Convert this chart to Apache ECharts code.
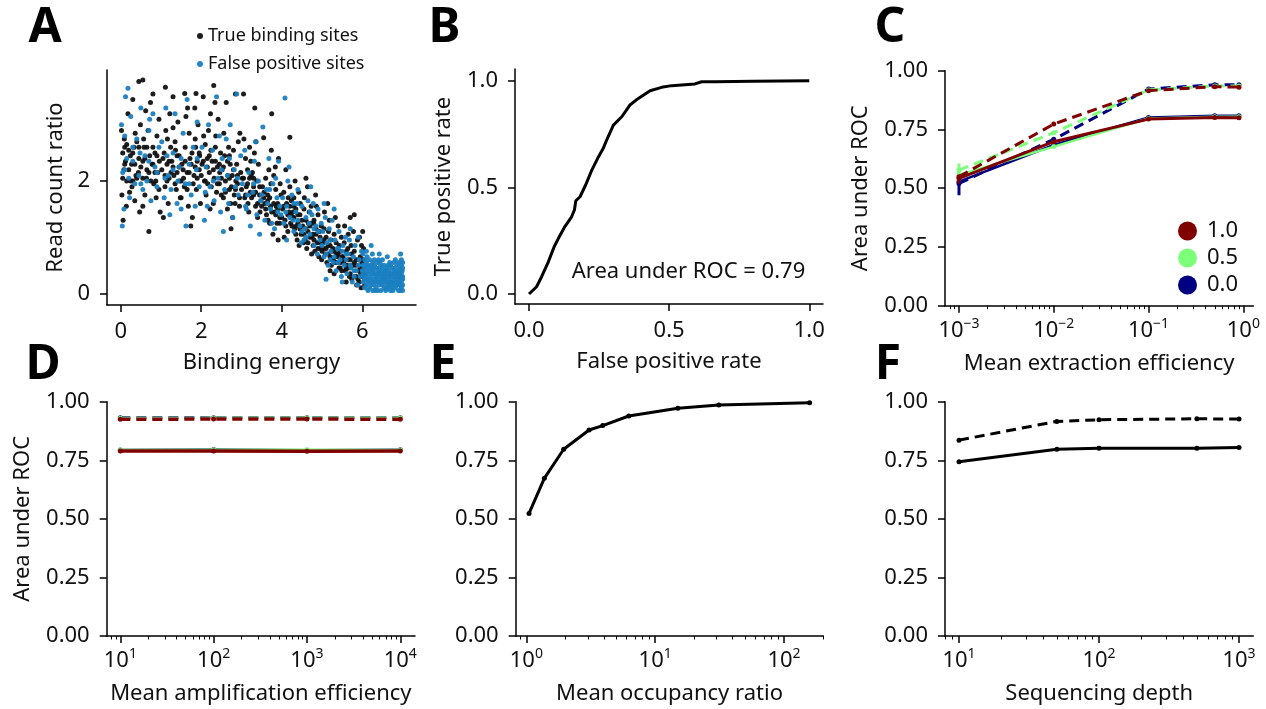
<!DOCTYPE html>
<html><head><meta charset="utf-8">
<script src="https://cdn.jsdelivr.net/npm/echarts@6/dist/echarts.min.js"></script>
<style>html,body{margin:0;padding:0;background:#fff}#c{width:1266px;height:709px}</style>
</head><body><div id="c"></div>
<script>
// ---------------- DATA ----------------
// Panel A: binding energy vs read count ratio
const trueSites = [
[0.02,2.9],[0.05,2.5],[0.08,2.2],[0.03,1.75],[0.06,1.3],[0.1,2.6],[0.12,2.35],[0.15,2.0],[0.18,3.2],[0.2,2.55],[0.22,1.8],[0.14,1.55],[0.24,2.45],[0.09,2.75],
[0.27,2.3],[0.3,3.45],[0.33,2.6],[0.35,1.65],[0.38,2.1],[0.4,2.7],[0.45,3.77],[0.45,2.4],[0.47,1.45],[0.3,2.0],[0.36,2.85],[0.44,2.15],[0.49,3.0],[0.28,1.9],
[0.55,3.8],[0.55,2.35],[0.58,2.6],[0.6,1.75],[0.62,3.25],[0.65,2.2],[0.68,2.9],[0.7,1.1],[0.72,2.45],[0.55,1.55],[0.64,2.05],[0.74,3.4],[0.57,2.75],
[0.78,2.3],[0.8,3.55],[0.82,1.95],[0.85,2.5],[0.88,1.7],[0.9,2.8],[0.92,2.15],[0.95,3.1],[0.98,1.45],[0.8,2.6],[0.87,2.0],[0.96,2.35],
[1.02,2.2],[1.11,3.67],[1.08,2.5],[1.1,1.9],[1.12,2.9],[1.15,2.3],[1.18,1.6],[1.2,2.05],[1.22,3.2],[1.24,2.6],[1.06,1.35],[1.16,2.75],
[1.27,2.35],[1.3,3.5],[1.32,2.1],[1.35,2.7],[1.38,1.85],[1.4,2.45],[1.42,3.05],[1.45,2.25],[1.48,1.7],[1.3,2.95],[1.36,2.55],[1.46,2.0],
[1.52,2.3],[1.59,3.56],[1.58,1.9],[1.6,2.6],[1.62,3.15],[1.65,2.15],[1.68,1.55],[1.7,2.85],[1.72,2.4],[1.74,1.2],[1.56,2.05],[1.66,3.3],
[1.77,2.5],[1.87,3.56],[1.82,2.1],[1.85,2.75],[1.88,1.85],[1.9,2.35],[1.92,3.0],[1.95,2.2],[1.98,1.6],[1.78,1.35],[1.86,2.6],[1.96,2.45],[1.84,3.3],
[2.02,2.3],[2.05,3.5],[2.08,2.0],[2.1,2.65],[2.12,1.75],[2.15,2.4],[2.18,2.9],[2.2,2.15],[2.22,1.5],[2.24,2.55],[2.06,2.8],[2.16,1.95],[2.23,3.2],
[2.27,2.35],[2.31,3.7],[2.32,2.05],[2.35,2.6],[2.38,1.8],[2.4,2.25],[2.42,3.1],[2.45,1.95],[2.48,2.5],[2.3,1.6],[2.36,2.8],[2.46,2.15],[2.34,3.4],
[2.52,2.2],[2.55,1.7],[2.58,2.45],[2.6,2.0],[2.62,3.4],[2.65,1.5],[2.68,2.6],[2.7,1.85],[2.72,2.3],[2.74,1.15],[2.56,2.85],[2.66,2.1],[2.73,1.6],
[2.77,2.1],[2.8,2.55],[2.82,1.75],[2.85,3.55],[2.88,2.3],[2.9,1.95],[2.92,2.7],[2.95,1.55],[2.98,2.15],[2.78,1.35],[2.86,2.0],[2.96,2.85],[2.84,1.6],
[3.02,2.05],[3.05,3.55],[3.08,1.7],[3.1,2.4],[3.12,1.9],[3.15,2.2],[3.18,1.45],[3.2,2.6],[3.22,1.8],[3.24,2.1],[3.06,2.75],[3.16,1.6],[3.23,2.35],
[3.27,2.15],[3.3,1.75],[3.32,2.5],[3.35,1.55],[3.38,2.0],[3.4,1.35],[3.42,2.3],[3.45,1.9],[3.48,1.65],[3.3,2.05],[3.36,2.7],[3.46,1.45],[3.33,3.3],
[3.52,1.9],[3.55,2.77],[3.58,1.6],[3.6,2.05],[3.62,1.4],[3.65,1.75],[3.68,2.2],[3.7,1.25],[3.72,1.55],[3.74,2.55],[3.56,1.8],[3.66,1.3],[3.73,1.95],
[3.75,3.2],[3.8,2.1],[3.82,1.45],[3.85,1.85],[3.88,1.25],[3.9,1.6],[3.92,2.4],[3.95,1.35],[3.98,1.75],[3.78,1.05],[3.86,1.55],[3.96,1.95],[3.84,2.25],[3.91,0.95],
[4.02,1.5],[4.05,1.8],[4.08,1.3],[4.1,2.2],[4.12,1.6],[4.15,1.1],[4.18,1.45],[4.2,1.9],[4.22,1.25],[4.24,1.65],[4.06,1.0],[4.16,1.7],[4.23,1.4],[4.2,2.78],
[4.27,1.35],[4.3,1.7],[4.32,1.15],[4.35,1.5],[4.38,0.95],[4.4,1.25],[4.42,1.8],[4.45,1.4],[4.48,1.05],[4.3,1.55],[4.36,1.2],[4.46,1.6],[4.33,2.0],[4.43,0.85],[4.28,1.45],
[4.52,1.2],[4.55,1.5],[4.58,0.95],[4.6,1.3],[4.62,0.8],[4.65,1.1],[4.68,1.45],[4.7,1.0],[4.72,1.25],[4.74,0.7],[4.56,1.7],[4.66,1.25],[4.73,1.55],[4.54,0.9],[4.64,1.9],[4.6,2.05],
[4.77,1.05],[4.8,1.3],[4.82,0.75],[4.85,1.15],[4.88,0.9],[4.9,1.4],[4.92,0.65],[4.95,1.0],[4.98,1.2],[4.78,0.85],[4.86,1.55],[4.96,0.8],[4.84,1.75],[4.93,1.1],[4.79,1.25],[4.99,0.6],
[5.02,0.9],[5.05,1.15],[5.08,0.7],[5.1,1.0],[5.12,0.55],[5.15,0.85],[5.18,1.3],[5.2,0.65],[5.22,0.95],[5.24,0.75],[5.06,1.45],[5.16,1.1],[5.23,0.5],[5.04,0.8],[5.14,1.6],[5.2,0.4],
[5.27,0.8],[5.3,1.05],[5.32,0.55],[5.35,0.9],[5.38,0.65],[5.4,1.2],[5.42,0.45],[5.45,0.75],[5.48,1.0],[5.3,0.35],[5.36,0.7],[5.46,0.55],[5.33,1.35],[5.43,0.85],[5.28,0.6],[5.49,0.4],
[5.52,0.65],[5.55,0.9],[5.58,0.4],[5.6,0.75],[5.62,0.5],[5.65,1.05],[5.68,0.3],[5.7,0.6],[5.72,0.85],[5.74,0.25],[5.56,1.2],[5.66,0.45],[5.73,0.7],[5.54,0.55],[5.64,0.8],[5.7,1.35],[5.6,0.2],
[5.77,0.5],[5.8,0.75],[5.82,0.3],[5.85,0.6],[5.88,0.95],[5.9,0.4],[5.92,0.2],[5.95,0.65],[5.98,0.85],[5.78,1.1],[5.86,0.15],[5.96,0.35],[5.84,0.5],[5.93,1.0],[5.99,0.55],[5.8,1.4],[5.89,0.25],
[6.02,0.6],[6.05,0.35],[6.03,0.8],[6.06,0.15],[6.01,1.1],[6.04,0.45],
[0.05,2.05],[0.1,2.3],[0.15,2.65],[0.2,2.2],[0.25,2.0],[0.3,2.5],[0.35,2.3],[0.4,2.05],[0.45,2.6],[0.5,2.25],[0.55,2.05],[0.6,2.4],[0.65,2.6],[0.7,2.15],[0.75,2.0],[0.8,2.3],[0.85,2.15],[0.9,2.45],[0.95,1.85],
[1.05,2.4],[1.1,2.1],[1.15,2.0],[1.2,2.35],[1.25,2.15],[1.3,2.25],[1.35,1.95],[1.4,2.15],[1.45,2.45],[1.5,2.0],[1.55,2.2],[1.6,2.35],[1.65,1.85],[1.7,2.15],[1.75,2.3],[1.8,1.95],[1.85,2.25],[1.9,2.05],[1.95,2.5],[1.5,1.7],
[2.0,2.1],[2.05,2.35],[2.1,2.0],[2.15,2.25],[2.2,2.45],[2.25,1.9],[2.3,2.2],[2.35,2.35],[2.4,1.95],[2.45,2.3],[2.5,2.05],[2.55,2.25],[2.6,1.8],[2.65,2.35],[2.7,2.05],[2.75,1.9],[2.8,2.2],[2.85,1.85],[2.9,2.1],[2.95,1.7],[2.5,1.75],[2.7,2.45],
[3.0,1.85],[3.05,2.05],[3.1,1.75],[3.15,1.95],[3.2,2.05],[3.25,1.7],[3.3,1.9],[3.35,1.8],[3.4,1.6],[3.45,1.75],[3.5,1.55],[3.55,1.7],[3.6,1.5],[3.65,1.65],[3.7,1.7],[3.75,1.45],[3.8,1.6],[3.85,1.4],[3.9,1.5],[3.95,1.25],
[4.0,1.35],[4.05,1.55],[4.1,1.2],[4.15,1.4],[4.2,1.55],[4.25,1.2],[4.3,1.35],[4.35,1.05],[4.4,1.4],[4.45,1.15],[4.5,1.3],[4.55,1.05],[4.6,1.15],[4.65,0.9],[4.7,1.2],[4.75,1.0],[4.8,0.95],[4.85,1.05],[4.9,0.8],[4.95,0.9],
[5.0,0.75],[5.05,0.95],[5.1,0.8],[5.15,0.7],[5.2,0.85],[5.25,0.6],[5.3,0.75],[5.35,0.55],[5.4,0.7],[5.45,0.45],[5.5,0.65],[5.55,0.6],[5.6,0.45],[5.65,0.6],[5.7,0.35],[5.75,0.5],[5.8,0.55],[5.85,0.3],[5.9,0.6],[5.95,0.45],[6.0,0.3],[5.97,0.1]
];
const falseSites = [
[0.02,3.0],[0.05,2.15],[0.08,1.5],[0.1,2.8],[0.12,3.5],[0.15,2.4],[0.18,3.65],[0.2,2.05],[0.25,3.15],[0.3,2.35],[0.35,1.95],[0.4,2.75],[0.45,2.1],[0.5,3.3],[0.55,1.85],[0.6,2.45],[0.65,2.0],[0.7,2.9],[0.75,1.65],[0.8,3.2],[0.85,2.25],[0.9,1.9],[0.95,2.6],[0.04,1.2],[0.22,1.7],[0.48,2.5],[0.72,3.1],
[1.02,2.7],[1.08,1.7],[1.12,3.3],[1.18,2.1],[1.25,1.85],[1.3,2.5],[1.35,3.2],[1.4,1.6],[1.45,2.25],[1.5,1.5],[1.55,2.85],[1.6,1.95],[1.65,3.45],[1.7,2.3],[1.75,1.75],[1.8,2.6],[1.85,1.55],[1.9,3.05],[1.95,1.9],[1.15,2.45],[1.42,2.0],[1.62,1.2],[1.88,2.2],[1.22,1.4],
[2.02,2.6],[2.08,1.3],[2.12,2.25],[2.18,3.0],[2.22,1.9],[2.28,2.55],[2.32,1.65],[2.38,3.5],[2.42,2.05],[2.48,1.45],[2.52,2.4],[2.58,1.85],[2.62,2.75],[2.68,1.6],[2.72,3.0],[2.78,1.35],[2.82,2.2],[2.88,3.55],[2.92,1.75],[2.98,2.45],[2.15,1.55],[2.45,2.8],[2.65,2.1],[2.85,1.9],[2.55,1.1],
[3.02,1.95],[3.08,2.55],[3.12,1.5],[3.18,2.15],[3.22,1.2],[3.28,1.8],[3.32,2.35],[3.38,1.4],[3.42,2.0],[3.48,1.65],[3.53,2.96],[3.58,1.3],[3.62,1.85],[3.68,2.4],[3.72,1.5],[3.78,1.95],[3.82,1.15],[3.88,1.7],[3.92,2.35],[3.98,1.4],[3.15,1.75],[3.45,1.05],[3.65,1.6],[3.85,2.05],[3.35,2.7],[3.75,1.25],[3.95,1.55],
[4.02,1.7],[4.05,1.25],[4.08,3.48],[4.12,1.55],[4.15,2.0],[4.2,1.35],[4.25,1.75],[4.3,1.1],[4.35,1.45],[4.4,1.85],[4.45,1.2],[4.5,1.55],[4.55,0.95],[4.6,1.35],[4.65,1.65],[4.7,1.05],[4.75,1.4],[4.8,0.85],[4.85,1.2],[4.9,1.5],[4.95,0.95],[4.18,2.25],[4.38,1.6],[4.58,1.15],[4.78,1.6],[4.98,1.25],[4.28,1.3],[4.48,0.9],[4.68,1.25],[4.88,0.7],[4.12,0.95],[4.72,1.9],
[5.02,1.1],[5.05,0.65],[5.08,1.35],[5.12,0.9],[5.15,0.5],[5.18,1.15],[5.22,0.75],[5.25,1.3],[5.28,0.55],[5.32,0.95],[5.35,0.4],[5.38,0.8],[5.42,1.1],[5.45,0.6],[5.48,0.3],[5.52,0.85],[5.55,0.5],[5.58,1.0],[5.62,0.35],[5.65,0.7],[5.68,0.95],[5.72,0.45],[5.75,0.2],[5.78,0.65],[5.82,0.85],[5.85,0.4],[5.88,0.15],[5.92,0.6],[5.95,0.3],[5.98,0.75],[5.1,0.25],[5.3,1.5],[5.5,0.2],[5.7,1.15],[5.9,1.0],[5.4,0.55],[5.6,0.7],[5.8,0.3],[5.2,0.95],[5.05,1.6],
[0.1,2.2],[0.3,2.6],[0.5,1.95],[0.7,2.35],[0.9,2.15],[1.1,2.05],[1.3,2.2],[1.5,2.4],[1.7,1.95],[1.9,2.4],[2.1,1.8],[2.3,2.0],[2.5,2.2],[2.7,2.4],[2.9,2.05],[3.1,1.55],[3.3,1.95],[3.5,1.75],[3.7,1.85],[3.9,1.45],
[4.1,1.45],[4.3,1.6],[4.5,1.1],[4.7,1.45],[4.9,1.1],[5.1,0.7],[5.3,0.65],[5.5,0.75],[5.7,0.5],[5.9,0.5],[4.4,1.3],[4.6,1.0],[4.8,1.15],[5.0,0.85],[5.2,0.6],[5.4,0.8],[5.6,0.6],[5.8,0.4],[6.0,0.4],
[6.02,0.5],[6.02,0.2],[6.02,0.35],[6.02,0.7],[6.06,0.1],[6.06,0.45],[6.06,0.6],[6.06,0.25],
[6.1,0.3],[6.1,0.55],[6.1,0.15],[6.1,0.4],[6.1,0.75],[6.14,0.2],[6.14,0.5],[6.14,0.05],[6.14,0.35],
[6.18,0.4],[6.18,0.25],[6.18,0.6],[6.18,0.1],[6.22,0.3],[6.22,0.5],[6.22,0.15],[6.22,0.45],[6.22,0.85],
[6.26,0.2],[6.26,0.4],[6.26,0.05],[6.26,0.55],[6.3,0.35],[6.3,0.15],[6.3,0.5],[6.3,0.25],[6.3,0.6],
[6.34,0.1],[6.34,0.3],[6.34,0.45],[6.34,0.2],[6.38,0.4],[6.38,0.05],[6.38,0.55],[6.38,0.25],
[6.42,0.3],[6.42,0.15],[6.42,0.45],[6.42,0.35],[6.42,0.7],[6.46,0.2],[6.46,0.4],[6.46,0.05],[6.46,0.5],
[6.5,0.3],[6.5,0.15],[6.5,0.45],[6.5,0.25],[6.5,0.6],[6.54,0.1],[6.54,0.35],[6.54,0.2],[6.54,0.5],
[6.58,0.4],[6.58,0.25],[6.58,0.05],[6.58,0.3],[6.62,0.2],[6.62,0.45],[6.62,0.15],[6.62,0.35],[6.62,0.65],
[6.66,0.3],[6.66,0.1],[6.66,0.4],[6.66,0.25],[6.7,0.2],[6.7,0.5],[6.7,0.35],[6.7,0.05],[6.7,0.15],
[6.74,0.3],[6.74,0.45],[6.74,0.2],[6.74,0.1],[6.78,0.4],[6.78,0.25],[6.78,0.55],[6.78,0.15],
[6.82,0.3],[6.82,0.1],[6.82,0.45],[6.82,0.2],[6.82,0.6],[6.86,0.35],[6.86,0.15],[6.86,0.25],[6.86,0.5],
[6.9,0.2],[6.9,0.4],[6.9,0.05],[6.9,0.3],[6.9,0.55],[6.94,0.3],[6.94,0.15],[6.94,0.45],[6.94,0.25],[6.94,0.05],
[6.97,0.2],[6.97,0.35],[6.97,0.5],[6.97,0.1],[6.97,0.4],[6.97,0.6],[7.0,0.15],[7.0,0.3],[7.0,0.45],[7.0,0.25],[7.0,0.05],[7.0,0.55],
[6.04,0.3],[6.08,0.5],[6.12,0.25],[6.16,0.45],[6.2,0.2],[6.24,0.35],[6.28,0.45],[6.32,0.05],[6.36,0.35],[6.4,0.2],[6.44,0.55],[6.48,0.35],[6.52,0.25],[6.56,0.4],[6.6,0.1],
[6.64,0.5],[6.68,0.2],[6.72,0.35],[6.76,0.05],[6.8,0.35],[6.84,0.4],[6.88,0.15],[6.92,0.35],[6.96,0.25],[6.99,0.4],[6.12,0.65],[6.4,0.6],[6.68,0.55],[6.95,0.7],[6.25,0.7]
];

// Panel B: ROC curve
const rocFpr = [0,0.027,0.045,0.069,0.090,0.105,0.128,0.152,0.162,0.167,0.182,0.202,0.224,0.245,0.265,0.277,0.301,0.331,0.360,0.390,0.432,0.473,0.509,0.592,0.616,0.664,0.80,1.0];
const rocTpr = [0,0.034,0.081,0.151,0.222,0.261,0.316,0.362,0.394,0.437,0.456,0.511,0.581,0.636,0.683,0.722,0.792,0.831,0.886,0.917,0.953,0.969,0.977,0.985,0.995,0.995,0.998,1.0];
const rocAuc = '0.79';

// Panel C: extraction efficiency
const extrX = [0.001,0.01,0.1,0.5,0.9];
const extrSolid10 = [0.542,0.698,0.794,0.801,0.800];
const extrDash10  = [0.549,0.773,0.915,0.932,0.930];
const extrSolid05 = [0.556,0.677,0.797,0.804,0.804];
const extrDash05  = [0.577,0.736,0.918,0.935,0.935];
const extrSolid00 = [0.528,0.684,0.801,0.808,0.808];
const extrDash00  = [0.520,0.708,0.922,0.940,0.940];
const extrErr10 = [[0.001,0.52,0.565]];
const extrErr05 = [[0.001,0.53,0.605]];
const extrErr00 = [[0.001,0.47,0.555]];

// Panel D: amplification efficiency
const amplX = [10,100,1000,10000];
const amplSolid10 = [0.790,0.790,0.788,0.790];
const amplDash10  = [0.925,0.926,0.926,0.925];
const amplSolid05 = [0.794,0.795,0.795,0.794];
const amplDash05  = [0.929,0.930,0.930,0.930];
const amplSolid00 = [0.794,0.796,0.793,0.795];
const amplDash00  = [0.931,0.931,0.932,0.932];

// Panel E: occupancy ratio
const occX = [1.05,1.38,1.95,3.07,3.92,6.24,15.0,31.2,158];
const occY = [0.523,0.673,0.797,0.879,0.898,0.939,0.972,0.986,0.996];

// Panel F: sequencing depth
const depthX = [10,50,100,500,1000];
const depthSolid = [0.744,0.797,0.801,0.801,0.804];
const depthDash  = [0.836,0.916,0.923,0.927,0.926];

// Tick values / labels
const aXTicks = [0,2,4,6];
const aYTicks = [0,2];
const bTicks = [0,0.5,1];
const aucTicks = [0,0.25,0.5,0.75,1];
const cXTicks = [0.001,0.01,0.1,1];
const dXTicks = [10,100,1000,10000];
const eXTicks = [1,10,100];
const fXTicks = [10,100,1000];
const legendLevels = ['1.0','0.5','0.0'];

// ---------------- STYLE ----------------
const FONT = 'Noto Sans';
const TXT = '#111';
const COL = {'1.0':'#800000','0.5':'#7dff7a','0.0':'#000080'};
const BLUE = '#1a7fc1';
const FS = 22;

const grids = [
  {left:107, top:70, width:309, height:235},
  {left:515, top:69, width:308, height:235},
  {left:945, top:70.7, width:308.3, height:235},
  {left:106.7, top:401.7, width:308.3, height:234.3},
  {left:515.7, top:401.7, width:307.6, height:234.3},
  {left:945, top:401.7, width:308.3, height:234.3}
];

function zip(xs, ys){ return xs.map((x,i)=>[x,ys[i]]); }
function minors(lo, hi){
  const out=[];
  for(let e=Math.floor(Math.log10(lo)); e<=Math.ceil(Math.log10(hi)); e++){
    for(let k=2;k<=9;k++){ const v=+(k*Math.pow(10,e)).toPrecision(6); if(v>=lo && v<=hi) out.push(v); }
  }
  return out;
}
function supLabel(v){
  const e=Math.round(Math.log10(v));
  return '{b|10}{s|'+(e<0?'\u2212'+(-e):String(e))+'}';
}
const lineStyleAxis = {color:'#000', width:1.5};
function valueAxis(gi, min, max, ticks, fmt, extra){
  return Object.assign({
    type:'value', gridIndex:gi, min:min, max:max,
    axisLine:{show:true, onZero:false, lineStyle:lineStyleAxis},
    axisTick:{show:true, length:7, lineStyle:{color:'#000',width:1.5}, customValues:ticks},
    axisLabel:{show:true, customValues:ticks, formatter:fmt, fontSize:FS, fontFamily:FONT, color:TXT, margin:16},
    splitLine:{show:false}, nameTextStyle:{fontSize:FS, fontFamily:FONT, color:TXT}
  }, extra||{});
}
function logAxis(gi, min, max, ticks, extra){
  return Object.assign({
    type:'log', logBase:10, gridIndex:gi, min:min, max:max,
    axisLine:{show:true, onZero:false, lineStyle:lineStyleAxis},
    axisTick:{show:true, length:7, lineStyle:{color:'#000',width:1.5}, customValues:ticks},
    axisLabel:{show:true, customValues:ticks, formatter:supLabel, margin:11, color:TXT,
      rich:{b:{fontSize:FS, fontFamily:FONT, color:TXT}, s:{fontSize:14, fontFamily:FONT, color:TXT, padding:[0,0,14,0]}}},
    splitLine:{show:false}, nameTextStyle:{fontSize:FS, fontFamily:FONT, color:TXT}
  }, extra||{});
}
function minorAxis(gi, min, max){
  return {
    type:'log', logBase:10, gridIndex:gi, min:min, max:max, position:'bottom',
    axisLine:{show:false, onZero:false},
    axisTick:{show:true, length:3.5, lineStyle:{color:'#000',width:1}, customValues:minors(min,max)},
    axisLabel:{show:false}, splitLine:{show:false}
  };
}
const f0 = v => String(Math.round(v));
const f1 = v => (+v).toFixed(1);
const f2 = v => (+v).toFixed(2);

const logC = [0.000712, 1.275];
const logD = [7.145, 14388];
const logE = [0.8275, 201.8];
const logF = [7.943, 1264.7];

const XG = 47;
const xAxes = [
  valueAxis(0, -0.34, 7.333, aXTicks, f0, {name:'Binding energy', nameLocation:'middle', nameGap:XG}),
  valueAxis(1, -0.05, 1.049, bTicks, f1, {name:'False positive rate', nameLocation:'middle', nameGap:XG}),
  logAxis(2, logC[0], logC[1], cXTicks, {name:'Mean extraction efficiency', nameLocation:'middle', nameGap:XG}),
  logAxis(3, logD[0], logD[1], dXTicks, {name:'Mean amplification efficiency', nameLocation:'middle', nameGap:XG}),
  logAxis(4, logE[0], logE[1], eXTicks, {name:'Mean occupancy ratio', nameLocation:'middle', nameGap:XG}),
  logAxis(5, logF[0], logF[1], fXTicks, {name:'Sequencing depth', nameLocation:'middle', nameGap:XG}),
  minorAxis(2, logC[0], logC[1]),
  minorAxis(3, logD[0], logD[1]),
  minorAxis(4, logE[0], logE[1]),
  minorAxis(5, logF[0], logF[1])
];
const yAxes = [
  valueAxis(0, -0.208, 3.977, aYTicks, f0, {name:'Read count ratio', nameLocation:'middle', nameGap:40}),
  valueAxis(1, -0.047, 1.055, bTicks, f1, {name:'True positive rate', nameLocation:'middle', nameGap:60}),
  valueAxis(2, 0, 1, aucTicks, f2, {name:'Area under ROC', nameLocation:'middle', nameGap:73}),
  valueAxis(3, 0, 1, aucTicks, f2, {name:'Area under ROC', nameLocation:'middle', nameGap:73}),
  valueAxis(4, 0, 1, aucTicks, f2),
  valueAxis(5, 0, 1, aucTicks, f2)
];
yAxes.forEach(a=>{ a.axisLabel.margin = 17; });

function lineSeries(name, xi, yi, xs, ys, color, dashed, width, z){
  return {type:'line', name:name, xAxisIndex:xi, yAxisIndex:yi, data:zip(xs,ys),
    symbol:'circle', symbolSize:5, showSymbol:true, z:z||2,
    itemStyle:{color:color}, lineStyle:{color:color, width:width||3, type: dashed?[10,6]:'solid'},
    emphasis:{disabled:true}, animation:false};
}
function errSeries(name, data, color){
  return {type:'custom', name:name, xAxisIndex:2, yAxisIndex:2, data:data, z:3, animation:false,
    encode:{x:0, y:[1,2]},
    renderItem:(params, api)=>{
      const x=api.value(0); const lo=api.coord([x, api.value(1)]); const hi=api.coord([x, api.value(2)]);
      return {type:'line', shape:{x1:lo[0],y1:lo[1],x2:hi[0],y2:hi[1]}, style:{stroke:color, lineWidth:3}};
    }};
}

const series = [
  {type:'scatter', name:'True binding sites', xAxisIndex:0, yAxisIndex:0, data:trueSites, symbolSize:5, itemStyle:{color:'#111', opacity:0.95}, animation:false, z:2},
  {type:'scatter', name:'False positive sites', xAxisIndex:0, yAxisIndex:0, data:falseSites, symbolSize:5, itemStyle:{color:BLUE, opacity:0.95}, animation:false, z:2},
  {type:'line', name:'ROC', xAxisIndex:1, yAxisIndex:1, data:zip(rocFpr, rocTpr), showSymbol:false, symbol:'none', lineStyle:{color:'#000', width:3}, animation:false},
  // Panel C
  lineSeries('0.0', 2, 2, extrX, extrSolid00, COL['0.0'], false, 2.5, 2),
  lineSeries('0.0', 2, 2, extrX, extrDash00, COL['0.0'], true, 3, 2),
  lineSeries('0.5', 2, 2, extrX, extrSolid05, COL['0.5'], false, 2.5, 3),
  lineSeries('0.5', 2, 2, extrX, extrDash05, COL['0.5'], true, 3, 3),
  lineSeries('1.0', 2, 2, extrX, extrSolid10, COL['1.0'], false, 3, 4),
  lineSeries('1.0', 2, 2, extrX, extrDash10, COL['1.0'], true, 3, 4),
  errSeries('0.0', extrErr00, COL['0.0']),
  errSeries('0.5', extrErr05, COL['0.5']),
  errSeries('1.0', extrErr10, COL['1.0']),
  // Panel D
  lineSeries('0.0', 3, 3, amplX, amplSolid00, COL['0.0'], false, 2.5, 2),
  lineSeries('0.0', 3, 3, amplX, amplDash00, COL['0.0'], true, 3, 2),
  lineSeries('0.5', 3, 3, amplX, amplSolid05, COL['0.5'], false, 2.5, 3),
  lineSeries('0.5', 3, 3, amplX, amplDash05, COL['0.5'], true, 3, 3),
  lineSeries('1.0', 3, 3, amplX, amplSolid10, COL['1.0'], false, 3.5, 4),
  lineSeries('1.0', 3, 3, amplX, amplDash10, COL['1.0'], true, 3.5, 4),
  // Panel E
  lineSeries('occupancy', 4, 4, occX, occY, '#000', false, 3, 2),
  // Panel F
  lineSeries('depth solid', 5, 5, depthX, depthSolid, '#000', false, 3, 2),
  lineSeries('depth dashed', 5, 5, depthX, depthDash, '#000', true, 3, 2)
];

function letter(t, x, y){
  return {type:'text', x:x, y:y, z:100, style:{text:t, fontSize:48, fontWeight:'bold', fontFamily:FONT, fill:'#000', align:'center', verticalAlign:'middle'}};
}

const option = {
  backgroundColor:'#fff',
  animation:false,
  textStyle:{fontFamily:FONT},
  grid: grids.map(g=>Object.assign({containLabel:false}, g)),
  xAxis: xAxes,
  yAxis: yAxes,
  legend:[
    {data:['True binding sites','False positive sites'], orient:'vertical', left:192, top:21,
     icon:'circle', itemWidth:6, itemHeight:6, itemGap:8, selectedMode:false,
     textStyle:{fontSize:18, fontFamily:FONT, color:TXT, lineHeight:20}},
    {data:legendLevels, orient:'vertical', left:1173, top:215, icon:'circle',
     itemWidth:19, itemHeight:19, itemGap:5, selectedMode:false,
     textStyle:{fontSize:FS, fontFamily:FONT, color:TXT, lineHeight:19, padding:[0,0,0,5]}}
  ],
  series: series,
  graphic:[
    letter('A',45,28), letter('B',444.5,28), letter('C',890,28),
    letter('D',43,365), letter('E',443,365), letter('F',888,365),
    {type:'text', x:571.7, y:271.7, z:100, style:{text:'Area under ROC = ' + rocAuc, fontSize:FS, fontFamily:FONT, fill:TXT, align:'left', verticalAlign:'middle'}}
  ]
};
const chart = echarts.init(document.getElementById('c'), null, {renderer:'canvas'});
chart.setOption(option);
</script></body></html>
